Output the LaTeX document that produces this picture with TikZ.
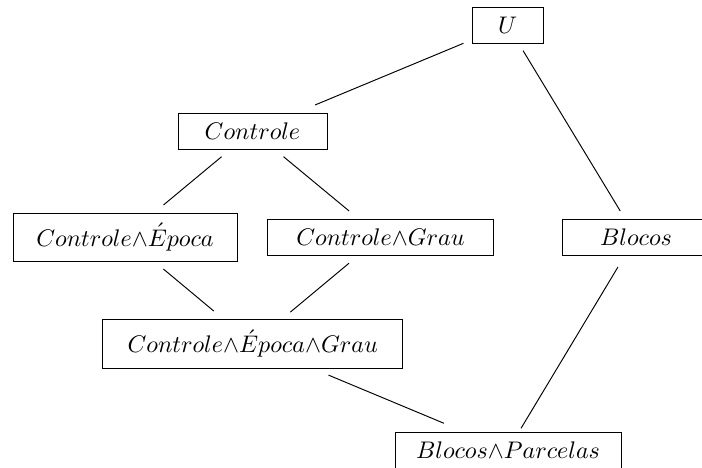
\documentclass[tikz,border=0pt]{standalone}
\newcommand{\pxu}{0.41667pt}
\begin{document}
\begin{tikzpicture}[x=\pxu,y=-\pxu,
  box/.style={draw, inner sep=0pt, minimum height=36*\pxu},
  link/.style={line width=0.4pt}]
\useasboundingbox (0,0) rectangle (702,468);
\node[box, minimum width=71*\pxu] (U) at (507.5,25) {$U$};
\node[box, minimum width=149*\pxu] (C) at (252.5,131) {$Controle$};
\node[box, minimum width=224*\pxu, minimum height=48*\pxu] (CE) at (125,237) {$Controle{\wedge}\acute{E}poca$};
\node[box, minimum width=226*\pxu] (CG) at (380.5,237) {$Controle{\wedge}Grau$};
\node[box, minimum width=148*\pxu] (B) at (636,237) {$Blocos$};
\node[box, minimum width=300.5*\pxu, minimum height=49*\pxu] (CEG) at (252.7,343.5) {$Controle{\wedge}\acute{E}poca{\wedge}Grau$};
\node[box, minimum width=226*\pxu] (BP) at (508,450) {$Blocos{\wedge}Parcelas$};
\draw[link, shorten <=47.7*\pxu, shorten >=67.8*\pxu] (U.center) -- (C.center);
\draw[link, shorten <=30.1*\pxu, shorten >=30.4*\pxu] (U.center) -- (B.center);
\draw[link, shorten <=40.2*\pxu, shorten >=50.1*\pxu] (C.center) -- (CE.center);
\draw[link, shorten <=40.3*\pxu, shorten >=40.7*\pxu] (C.center) -- (CG.center);
\draw[link, shorten <=50*\pxu, shorten >=50.7*\pxu] (CE.center) -- (CEG.center);
\draw[link, shorten <=41*\pxu, shorten >=49*\pxu] (CG.center) -- (CEG.center);
\draw[link, shorten <=82.1*\pxu, shorten >=69.4*\pxu] (CEG.center) -- (BP.center);
\draw[link, shorten <=34.9*\pxu, shorten >=25.3*\pxu] (B.center) -- (BP.center);
\end{tikzpicture}
\end{document}
